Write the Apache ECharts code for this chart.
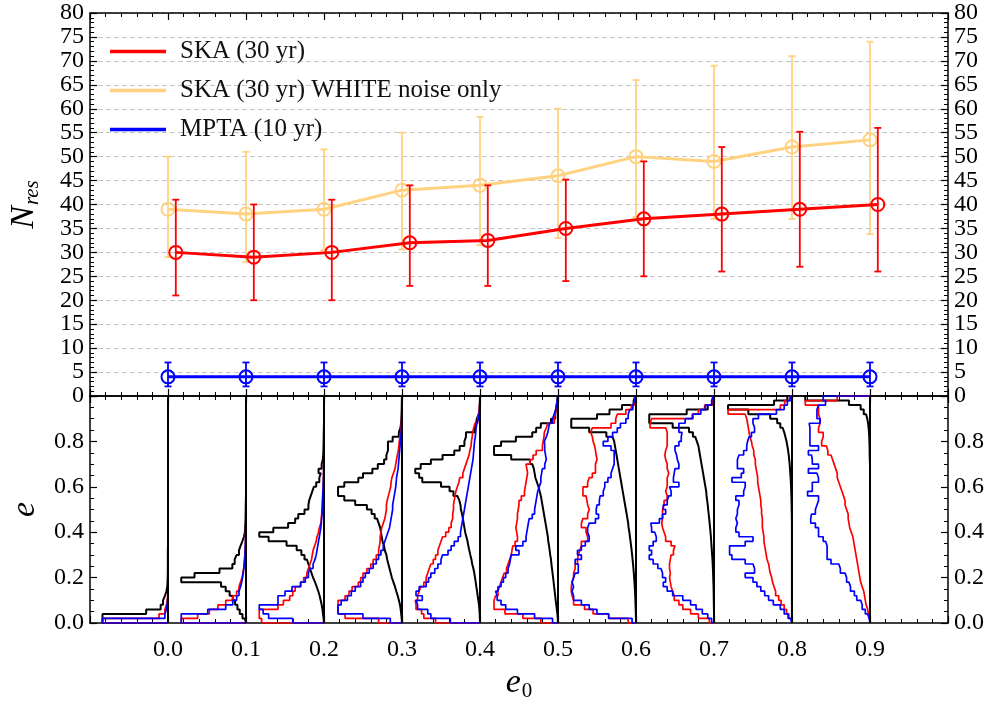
<!DOCTYPE html>
<html><head><meta charset="utf-8">
<script src="https://cdn.jsdelivr.net/npm/echarts@6/dist/echarts.min.js"></script>
<style>html,body{margin:0;padding:0;background:#fff}#c{width:999px;height:702px}</style>
</head><body><div id="c"></div>
<script>
// ---------------- top panel data ----------------
const e0Values = [0.0,0.1,0.2,0.3,0.4,0.5,0.6,0.7,0.8,0.9];
const skaX = [0.01,0.11,0.21,0.31,0.41,0.51,0.61,0.71,0.81,0.91];
const skaMean = [30,29,30,32,32.5,35,37,38,39,40];
const skaLo = [21,20,20,23,23,24,25,26,27,26];
const skaHi = [41,40,41,44,44,45.2,49,52,55.2,56];
const whiteMean = [39,38,39,43,44,46,50,49,52,53.5];
const whiteLo = [29,28,30.5,30.6,31.5,33,37.4,37,37,33.8];
const whiteHi = [50,51,51.5,55,58.3,60,66,69,71,74];
const mptaMean = [4,4,4,4,4,4,4,4,4,4];
const mptaLo = [2,2,2,2,2,2,2,2,2,2];
const mptaHi = [7,7,7,7,7,7,7,7,7,7];
const legendNames = ['SKA (30 yr)','SKA (30 yr) WHITE noise only','MPTA (10 yr)'];

// ---------------- bottom panel histograms (bin width 0.02 in e, 50 bins, value = fraction of 0.1 in e0) ----------------
const binWidth = 0.02;
const black0 = [.84,.84,.28,.094,.064,.04,.02,.01,.006,.004, .003,.002,.002,.002,.002,.002,0,0,0,0, 0,0,0,0,0,0,0,0,0,0, 0,0,0,0,0,0,0,0,0,0, 0,0,0,0,0,0,0,0,0,0];
const red0 = [.84,.115,.04,.02,.01,.005,0,0,0,0, 0,0,0,0,0,0,0,0,0,0, 0,0,0,0,0,0,0,0,0,0, 0,0,0,0,0,0,0,0,0,0, 0,0,0,0,0,0,0,0,0,0];
const blue0 = [.84,.04,.02,.01,.005,0,0,0,0,0, 0,0,0,0,0,0,0,0,0,0, 0,0,0,0,0,0,0,0,0,0, 0,0,0,0,0,0,0,0,0,0, 0,0,0,0,0,0,0,0,0,0];
const black1 = [.015,.045,.08,.11,.14,.17,.21,.26,.32,.83, .66,.34,.175,.145,.12,.09,.07,.047,.026,.015, .01,.008,.006,.005,.004,.003,.002,0,0,0, 0,0,0,0,0,0,0,0,0,0, 0,0,0,0,0,0,0,0,0,0];
const red1 = [.83,.62,.47,.36,.26,.17,.12,.09,.07,.05, .04,.03,.025,.02,.015,.012,.01,.008,.006,.005, .004,.003,.002,0,0,0,0,0,0,0, 0,0,0,0,0,0,0,0,0,0, 0,0,0,0,0,0,0,0,0,0];
const blue1 = [.83,.83,.49,.26,.17,.12,.09,.07,.055,.045, .035,.028,.02,.015,.012,.01,.008,.006,.005,.004, .003,.002,0,0,0,0,0,0,0,0, 0,0,0,0,0,0,0,0,0,0, 0,0,0,0,0,0,0,0,0,0];
const black2 = [.006,.013,.02,.03,.043,.056,.073,.094,.115,.14, .16,.18,.2,.22,.25,.29,.35,.48,.71,.83, .65,.46,.37,.33,.25,.2,.19,.17,.15,.13, .1,.06,.04,.07,.03,.015,.01,.008,.006,.005, .004,.003,.002,0,0,0,0,0,0,0];
const red2 = [.8,.83,.83,.59,.52,.44,.4,.37,.3,.26, .22,.2,.18,.16,.15,.14,.12,.1,.09,.07, .06,.04,.035,.03,.025,.022,.02,.018,.015,.012, .01,.008,.006,.005,.004,.003,.002,0,0,0, 0,0,0,0,0,0,0,0,0,0];
const blue2 = [.4,.71,.78,.83,.59,.59,.5,.41,.3,.24, .2,.18,.14,.115,.1,.09,.08,.07,.06,.05, .04,.035,.03,.025,.022,.02,.017,.015,.012,.01, .008,.006,.005,.004,.003,.002,0,0,0,0, 0,0,0,0,0,0,0,0,0,0];
const black3 = [.004,.01,.017,.026,.04,.055,.073,.09,.11,.13, .145,.16,.175,.19,.2,.22,.23,.25,.26,.27, .28,.3,.32,.35,.39,.45,.6,.74,.82,.82, .74,.56,.5,.38,.31,.23,.2,.18,.18,.18, .12,.04,.02,.012,.008,.006,.004,.003,.002,.001];
const red3 = [.3,.73,.82,.82,.82,.73,.68,.64,.56,.53, .5,.45,.4,.37,.33,.3,.29,.28,.28,.27, .26,.24,.22,.21,.2,.2,.19,.175,.16,.145, .14,.13,.11,.09,.08,.07,.06,.047,.04,.035, .025,.018,.012,.008,.005,.003,.002,0,0,0];
const blue3 = [.15,.5,.82,.82,.78,.7,.65,.6,.53,.5, .47,.42,.37,.33,.3,.27,.24,.22,.2,.18, .16,.15,.14,.13,.12,.12,.11,.1,.09,.08, .075,.07,.06,.05,.045,.04,.035,.03,.025,.02, .015,.01,.007,.005,.003,.002,0,0,0,0];
const black4 = [.002,.004,.008,.013,.021,.03,.038,.047,.055,.064, .073,.085,.1,.11,.124,.137,.15,.16,.175,.19, .2,.21,.22,.23,.245,.25,.265,.29,.34,.39, .5,.74,.78,.83,.76,.63,.48,.33,.26,.2, .18,.18,.064,.05,.04,.017,.008,.004,.002,.001];
const red4 = [.57,.72,.75,.82,.83,.8,.78,.76,.72,.69, .67,.65,.63,.6,.57,.54,.52,.5,.48,.44, .4,.37,.35,.35,.34,.34,.33,.32,.31,.29, .27,.26,.22,.2,.18,.16,.14,.13,.115,.11, .1,.094,.08,.064,.03,.015,.008,.004,.002,.001];
const blue4 = [.38,.63,.67,.8,.82,.74,.82,.78,.69,.66, .63,.58,.54,.5,.48,.41,.37,.33,.28,.25, .24,.23,.22,.21,.2,.19,.18,.17,.16,.15, .14,.13,.12,.11,.1,.09,.085,.08,.075,.07, .06,.055,.05,.04,.02,.01,.005,.002,.001,0];
const black5 = [.003,.008,.015,.022,.03,.036,.043,.05,.056,.063, .07,.077,.085,.09,.1,.107,.115,.125,.13,.14, .15,.16,.17,.18,.19,.2,.21,.22,.235,.25, .27,.29,.3,.31,.33,.36,.6,.82,.82,.73, .54,.33,.28,.22,.09,.035,.025,.017,.008,.003];
const red5 = [.22,.45,.68,.82,.82,.8,.77,.75,.73,.71, .69,.66,.64,.62,.6,.59,.58,.55,.52,.53, .54,.53,.52,.52,.51,.5,.5,.47,.43,.42, .41,.4,.39,.4,.41,.36,.32,.28,.2,.19, .18,.175,.15,.13,.047,.035,.025,.015,.008,.003];
const blue5 = [.07,.3,.52,.67,.73,.78,.8,.77,.73,.7, .67,.64,.62,.61,.6,.5,.54,.45,.41,.4, .39,.38,.37,.33,.3,.29,.28,.27,.26,.24, .22,.22,.21,.2,.17,.15,.16,.17,.17,.175, .15,.13,.12,.11,.07,.05,.03,.02,.01,.004];
const black6 = [.001,.002,.004,.006,.008,.01,.013,.016,.02,.024, .028,.033,.038,.044,.05,.056,.063,.07,.078,.085, .095,.1,.11,.12,.13,.14,.15,.16,.17,.18, .19,.2,.21,.22,.23,.24,.25,.26,.27,.28, .3,.38,.6,.83,.83,.5,.34,.18,.03,.01];
const red6 = [.1,.35,.55,.66,.8,.82,.83,.83,.82,.8, .8,.78,.78,.75,.74,.72,.7,.7,.62,.64, .64,.7,.68,.62,.6,.62,.63,.64,.68,.68, .62,.6,.56,.52,.52,.5,.51,.52,.53,.55, .56,.58,.56,.32,.26,.24,.13,.06,.01,.005];
const blue6 = [.05,.35,.5,.6,.7,.8,.82,.8,.82,.8, .78,.74,.74,.78,.7,.75,.7,.65,.6,.62, .62,.6,.52,.48,.51,.5,.47,.46,.42,.4, .4,.36,.32,.3,.28,.28,.28,.28,.32,.42, .36,.3,.24,.2,.13,.1,.08,.04,.02,.005];
const black7 = [0,0,.001,.002,.003,.004,.005,.006,.008,.01, .012,.014,.017,.02,.024,.028,.032,.036,.04,.045, .05,.056,.062,.068,.075,.08,.088,.095,.1,.11, .12,.13,.14,.15,.16,.17,.18,.19,.2,.22, .24,.27,.32,.53,.83,.83,.35,.08,.02,.005];
const red7 = [.06,.2,.3,.4,.45,.51,.53,.55,.56,.57, .56,.57,.57,.56,.55,.52,.5,.55,.62,.64, .66,.67,.66,.66,.66,.64,.64,.6,.62,.6, .6,.6,.58,.6,.6,.62,.63,.62,.6,.6, .6,.6,.62,.82,.8,.28,.2,.12,.02,.005];
const blue7 = [.03,.08,.15,.23,.3,.4,.53,.6,.65,.62, .66,.68,.72,.78,.83,.8,.83,.78,.74,.76, .8,.81,.7,.66,.62,.65,.6,.58,.55,.57, .45,.52,.51,.5,.45,.47,.48,.5,.5,.45, .42,.41,.45,.45,.37,.27,.17,.11,.03,.01];
const black8 = [.001,.001,.001,.001,.001,.001,.001,.001,.001,.001, .001,.001,.001,.001,.001,.001,.001,.001,.001,.001, .001,.001,.002,.003,.004,.005,.006,.008,.01,.012, .015,.018,.022,.026,.03,.036,.042,.05,.06,.07, .085,.1,.12,.15,.19,.28,.56,.82,.23,.06];
const red8 = [.01,.04,.07,.1,.14,.17,.21,.23,.25,.26, .28,.29,.3,.32,.33,.34,.35,.36,.36,.37, .38,.38,.38,.39,.39,.4,.4,.41,.42,.43, .44,.44,.45,.46,.47,.47,.49,.49,.51,.52, .54,.55,.56,.57,.58,.6,.82,.15,.094,.03];
const blue8 = [.02,.05,.1,.15,.24,.3,.35,.4,.45,.5, .6,.48,.5,.6,.77,.8,.8,.6,.5,.68, .72,.7,.72,.7,.7,.68,.68,.72,.62,.6, .6,.77,.65,.62,.7,.7,.68,.62,.58,.57, .55,.52,.48,.5,.5,.43,.2,.1,.06,.02];
const black9 = [0,0,0,0,0,0,0,0,0,0, 0,0,0,0,0,0,0,0,0,0, 0,0,0,0,0,0,0,0,0,0, 0,0,0,0,0,.003,.004,.005,.006,.008, .01,.013,.018,.025,.035,.05,.08,.12,.27,.83];
const red9 = [.005,.02,.03,.05,.06,.07,.08,.1,.12,.13, .14,.15,.16,.17,.18,.19,.2,.21,.22,.24, .26,.27,.28,.28,.3,.32,.32,.34,.36,.38, .4,.42,.42,.44,.46,.48,.5,.54,.56,.62, .6,.6,.66,.64,.64,.66,.66,.66,.83,.42];
const blue9 = [.01,.03,.06,.1,.12,.17,.2,.25,.27,.3, .32,.38,.4,.5,.55,.55,.55,.57,.6,.66, .66,.7,.76,.75,.7,.68,.66,.66,.8,.74, .74,.66,.68,.79,.66,.74,.75,.79,.66,.77, .77,.77,.77,.78,.64,.68,.68,.66,.57,.6];

const blackHists = [black0,black1,black2,black3,black4,black5,black6,black7,black8,black9];
const redHists = [red0,red1,red2,red3,red4,red5,red6,red7,red8,red9];
const blueHists = [blue0,blue1,blue2,blue3,blue4,blue5,blue6,blue7,blue8,blue9];
const histScale = 0.1; // a histogram value of 1 spans one e0 step

// ---------------- styling ----------------
const FONT = 'Liberation Serif';
const RED = '#ff0000', ORANGE = '#ffd280', BLUE = '#0000ff';

function stepOutline(e0, widths) {
  const pts = [[e0, 0]];
  widths.forEach((w, k) => {
    const x = e0 - w * histScale;
    pts.push([x, k * binWidth], [x, (k + 1) * binWidth]);
  });
  pts.push([e0, 1]);
  return pts;
}

function errSeries(xs, lo, hi, color, lw, cap, z) {
  return {
    type: 'custom', xAxisIndex: 0, yAxisIndex: 0, z: z, silent: true,
    data: xs.map((x, i) => [x, lo[i], hi[i]]),
    encode: { x: 0, y: [1, 2] },
    renderItem: (params, api) => {
      const p1 = api.coord([api.value(0), api.value(1)]);
      const p2 = api.coord([api.value(0), api.value(2)]);
      const st = { stroke: color, lineWidth: lw };
      return { type: 'group', children: [
        { type: 'line', shape: { x1: p1[0], y1: p1[1], x2: p2[0], y2: p2[1] }, style: st },
        { type: 'line', shape: { x1: p1[0] - cap, y1: p1[1], x2: p1[0] + cap, y2: p1[1] }, style: st },
        { type: 'line', shape: { x1: p2[0] - cap, y1: p2[1], x2: p2[0] + cap, y2: p2[1] }, style: st }
      ]};
    }
  };
}

function lineSeries(name, xs, ys, color, lw, z) {
  return {
    name: name, type: 'line', xAxisIndex: 0, yAxisIndex: 0, z: z,
    data: xs.map((x, i) => [x, ys[i]]),
    symbol: 'circle', symbolSize: 13, showSymbol: true,
    lineStyle: { color: color, width: lw },
    itemStyle: { color: 'rgba(0,0,0,0)', borderColor: color, borderWidth: 2 },
    emphasis: { disabled: true }, silent: true
  };
}

const labelStyle = { fontFamily: FONT, fontSize: 24, color: '#000' };
const axLine = { show: true, onZero: false, lineStyle: { color: '#000', width: 1.5 } };
const tick = { show: true, inside: true, length: 7, lineStyle: { color: '#000', width: 1.2 } };

function xAx(grid, pos, showLabel) {
  return {
    type: 'value', gridIndex: grid, position: pos, min: -0.1, max: 1.0, interval: 0.1,
    axisLine: axLine, axisTick: tick,
    minorTick: { show: true, splitNumber: 5, length: 4, lineStyle: { color: '#000', width: 1 } },
    splitLine: { show: false },
    axisLabel: Object.assign({ show: showLabel, margin: 15,
      formatter: v => (v < -0.05 || v > 0.95) ? '' : v.toFixed(1) }, labelStyle)
  };
}
function yAx(grid, pos, min, max, interval, minorSplit, fmt, split) {
  return {
    type: 'value', gridIndex: grid, position: pos, min: min, max: max, interval: interval,
    axisLine: axLine, axisTick: tick,
    minorTick: { show: true, splitNumber: minorSplit, length: 4, lineStyle: { color: '#000', width: 1 } },
    splitLine: { show: split, lineStyle: { color: '#c4c4c4', width: 1, type: [5, 3] } },
    axisLabel: Object.assign({ margin: 6, formatter: fmt }, labelStyle)
  };
}

const series = [
  errSeries(e0Values, whiteLo, whiteHi, ORANGE, 1.8, 3.5, 2),
  lineSeries(legendNames[1], e0Values, whiteMean, ORANGE, 3, 3),
  errSeries(skaX, skaLo, skaHi, RED, 1.8, 3.5, 4),
  lineSeries(legendNames[0], skaX, skaMean, RED, 3, 5),
  errSeries(e0Values, mptaLo, mptaHi, BLUE, 1.8, 3.5, 4),
  lineSeries(legendNames[2], e0Values, mptaMean, BLUE, 3, 5)
];

function histLine(pts, color, lw, z) {
  return { type: 'line', xAxisIndex: 2, yAxisIndex: 2, data: pts, showSymbol: false, symbol: 'none',
    lineStyle: { color: color, width: lw }, z: z, silent: true, clip: true };
}
e0Values.forEach((e0, i) => {
  series.push(histLine(stepOutline(e0, blackHists[i]), '#000', 2, 2));
  series.push(histLine(stepOutline(e0, redHists[i]), RED, 1.7, 3));
  series.push(histLine(stepOutline(e0, blueHists[i]), BLUE, 1.7, 4));
  // baseline of each histogram group
  series.push(histLine([[e0, 0], [e0, 1]], '#000', 2, 5));
});

const chart = echarts.init(document.getElementById('c'));
chart.setOption({
  animation: false,
  backgroundColor: '#fff',
  grid: [
    { left: 90, right: 51, top: 13, height: 383, containLabel: false, outerBoundsMode: 'none' },
    { left: 90, right: 51, top: 396, height: 227, containLabel: false, outerBoundsMode: 'none' }
  ],
  legend: {
    orient: 'vertical', left: 105, top: 34, itemWidth: 56, itemHeight: 3.5, itemGap: 14,
    icon: 'rect', selectedMode: false,
    textStyle: { fontFamily: FONT, fontSize: 25, color: '#111', padding: [0, 0, 0, 9] },
    data: [
      { name: legendNames[0], itemStyle: { color: RED, borderWidth: 0 } },
      { name: legendNames[1], itemStyle: { color: ORANGE, borderWidth: 0 } },
      { name: legendNames[2], itemStyle: { color: BLUE, borderWidth: 0 } }
    ]
  },
  xAxis: [ xAx(0, 'bottom', false), xAx(0, 'top', false),
    Object.assign(xAx(1, 'bottom', true), {
      name: '{n|e}{s|0}', nameLocation: 'middle', nameGap: 42,
      nameTextStyle: { rich: {
        n: { fontFamily: FONT, fontStyle: 'italic', fontSize: 34, color: '#000' },
        s: { fontFamily: FONT, fontSize: 21, color: '#000', padding: [16, 0, 0, 1] }
      } }
    }),
    xAx(1, 'top', false) ],
  yAxis: [
    Object.assign(yAx(0, 'left', 0, 80, 5, 5, v => String(v), true), {
      name: '{n|N}{s|res}', nameLocation: 'middle', nameGap: 47, nameRotate: 90,
      nameTextStyle: { rich: {
        n: { fontFamily: FONT, fontStyle: 'italic', fontSize: 34, color: '#000' },
        s: { fontFamily: FONT, fontStyle: 'italic', fontSize: 21, color: '#000', padding: [16, 0, 0, 1] }
      } }
    }),
    yAx(0, 'right', 0, 80, 5, 5, v => String(v), false),
    Object.assign(yAx(1, 'left', 0, 1, 0.2, 4, v => v > 0.95 ? '' : v.toFixed(1), false), {
      name: 'e', nameLocation: 'middle', nameGap: 48, nameRotate: 90,
      nameTextStyle: { fontFamily: FONT, fontStyle: 'italic', fontSize: 34, color: '#000' }
    }),
    yAx(1, 'right', 0, 1, 0.2, 4, v => v > 0.95 ? '' : v.toFixed(1), false)
  ],
  series: series
});
</script></body></html>
